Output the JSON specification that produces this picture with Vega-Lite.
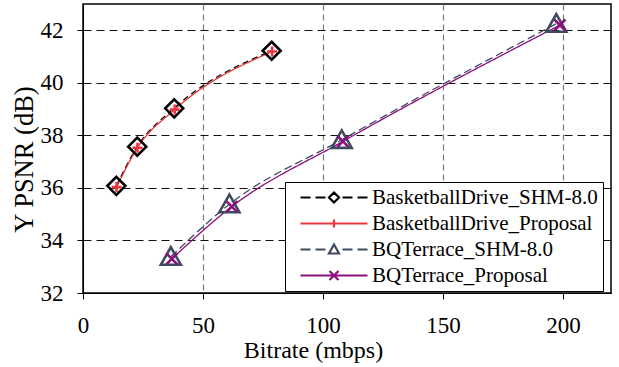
{
  "$schema": "https://vega.github.io/schema/vega-lite/v6.json",
  "width": 528,
  "height": 289,
  "autosize": {"type": "none"},
  "padding": {"left": 83, "top": 4, "right": 8, "bottom": 74},
  "background": "white",
  "config": {
    "view": {"stroke": "black", "strokeWidth": 1.5},
    "font": "Liberation Serif",
    "axis": {
      "labelFont": "Liberation Serif",
      "titleFont": "Liberation Serif",
      "labelColor": "black",
      "titleColor": "black",
      "titleFontWeight": "normal",
      "domainColor": "black",
      "tickColor": "black",
      "tickSize": 6,
      "labelFlush": false
    },
    "legend": {
      "orient": "none",
      "legendX": 202,
      "legendY": 178,
      "direction": "vertical",
      "strokeColor": "black",
      "fillColor": "white",
      "padding": 5,
      "labelFont": "Liberation Serif",
      "labelFontSize": 21,
      "labelColor": "black",
      "labelLimit": 400,
      "labelOffset": 61,
      "rowPadding": 4,
      "symbolSize": 100,
      "symbolStrokeWidth": 2.2,
      "symbolOpacity": 1
    }
  },
  "data": {
    "values": [
      {"series": "BasketballDrive_SHM-8.0", "bitrate": 13.9, "psnr": 36.08},
      {"series": "BasketballDrive_SHM-8.0", "bitrate": 22.6, "psnr": 37.57},
      {"series": "BasketballDrive_SHM-8.0", "bitrate": 38.0, "psnr": 39.03},
      {"series": "BasketballDrive_SHM-8.0", "bitrate": 78.6, "psnr": 41.22},
      {"series": "BasketballDrive_Proposal", "bitrate": 14.0, "psnr": 36.03},
      {"series": "BasketballDrive_Proposal", "bitrate": 22.7, "psnr": 37.53},
      {"series": "BasketballDrive_Proposal", "bitrate": 38.2, "psnr": 38.98},
      {"series": "BasketballDrive_Proposal", "bitrate": 78.8, "psnr": 41.19},
      {"series": "BQTerrace_SHM-8.0", "bitrate": 36.6, "psnr": 33.38},
      {"series": "BQTerrace_SHM-8.0", "bitrate": 61.0, "psnr": 35.38},
      {"series": "BQTerrace_SHM-8.0", "bitrate": 107.8, "psnr": 37.83},
      {"series": "BQTerrace_SHM-8.0", "bitrate": 197.2, "psnr": 42.25},
      {"series": "BQTerrace_Proposal", "bitrate": 37.0, "psnr": 33.3},
      {"series": "BQTerrace_Proposal", "bitrate": 62.0, "psnr": 35.29},
      {"series": "BQTerrace_Proposal", "bitrate": 108.3, "psnr": 37.77},
      {"series": "BQTerrace_Proposal", "bitrate": 198.7, "psnr": 42.2}
    ]
  },
  "layer": [
    {
      "mark": {"type": "line", "interpolate": "monotone", "strokeWidth": 1.3},
      "encoding": {
        "x": {
          "field": "bitrate", "type": "quantitative",
          "scale": {"domain": [0, 220], "nice": false, "zero": false},
          "axis": {
            "values": [0, 50, 100, 150, 200],
            "grid": true, "gridColor": "#7a7a7a", "gridDash": [6, 4], "gridWidth": 1.2,
            "labelFontSize": 23, "labelPadding": 15,
            "title": "Bitrate (mbps)", "titleFontSize": 24, "titlePadding": 1, "titleX": 230
          }
        },
        "y": {
          "field": "psnr", "type": "quantitative",
          "scale": {"domain": [32, 43], "nice": false, "zero": false},
          "axis": {
            "values": [32, 34, 36, 38, 40, 42],
            "grid": true, "gridColor": "#111111", "gridDash": [8, 5], "gridWidth": 1.2,
            "labelFontSize": 23, "labelPadding": 14,
            "title": "Y PSNR (dB)", "titleFontSize": 26.5, "titlePadding": 2, "titleY": 155
          }
        },
        "color": {
          "field": "series", "type": "nominal",
          "scale": {
            "domain": ["BasketballDrive_SHM-8.0", "BasketballDrive_Proposal", "BQTerrace_SHM-8.0", "BQTerrace_Proposal"],
            "range": ["#000000", "#e8383d", "#3d4b5f", "#8b0f7e"]
          },
          "legend": null
        },
        "strokeDash": {
          "field": "series", "type": "nominal",
          "scale": {
            "domain": ["BasketballDrive_SHM-8.0", "BasketballDrive_Proposal", "BQTerrace_SHM-8.0", "BQTerrace_Proposal"],
            "range": [[6, 4], [1, 0], [8, 4], [1, 0]]
          },
          "legend": null
        },
        "order": {"field": "bitrate", "type": "quantitative"}
      }
    },
    {
      "mark": {"type": "point", "filled": false, "strokeWidth": 2.6, "size": 400, "opacity": 1},
      "encoding": {
        "x": {"field": "bitrate", "type": "quantitative"},
        "y": {"field": "psnr", "type": "quantitative"},
        "color": {
          "field": "series", "type": "nominal",
          "scale": {
            "domain": ["BasketballDrive_SHM-8.0", "BasketballDrive_Proposal", "BQTerrace_SHM-8.0", "BQTerrace_Proposal"],
            "range": ["#000000", "#e8383d", "#3d4b5f", "#8b0f7e"]
          },
          "legend": null
        },
        "shape": {
          "field": "series", "type": "nominal",
          "scale": {
            "domain": ["BasketballDrive_SHM-8.0", "BasketballDrive_Proposal", "BQTerrace_SHM-8.0", "BQTerrace_Proposal"],
            "range": [
              "M0,-0.9L0.9,0L0,0.9L-0.9,0Z",
              "M-0.5,0H0.5M0,-0.5V0.5",
              "M0,-0.95L1,0.8H-1Z",
              "M-0.55,-0.55L0.55,0.55M-0.55,0.55L0.55,-0.55"
            ]
          },
          "legend": null
        }
      }
    },
    {
      "data": {
        "values": [
          {"series": "BasketballDrive_SHM-8.0"},
          {"series": "BasketballDrive_Proposal"},
          {"series": "BQTerrace_SHM-8.0"},
          {"series": "BQTerrace_Proposal"}
        ]
      },
      "mark": {"type": "point", "filled": false, "opacity": 0},
      "encoding": {
        "color": {
          "field": "series", "type": "nominal",
          "scale": {
            "domain": ["BasketballDrive_SHM-8.0", "BasketballDrive_Proposal", "BQTerrace_SHM-8.0", "BQTerrace_Proposal"],
            "range": ["#000000", "#e8383d", "#3d4b5f", "#8b0f7e"]
          },
          "legend": {"title": null}
        },
        "shape": {
          "field": "series", "type": "nominal",
          "scale": {
            "domain": ["BasketballDrive_SHM-8.0", "BasketballDrive_Proposal", "BQTerrace_SHM-8.0", "BQTerrace_Proposal"],
            "range": [
              "M0,0H2M3,0H5M8.4,0H10.4M11.4,0H13.4M6.7,-1L7.7,0L6.7,1L5.7,0Z",
              "M0,0H13.4M6.7,-0.8V0.8",
              "M0,0H2M3,0H5M8.4,0H10.4M11.4,0H13.4M6.7,-1L7.7,0.8H5.7Z",
              "M0,0H13.4M5.8,-0.9L7.6,0.9M5.8,0.9L7.6,-0.9"
            ]
          },
          "legend": {"title": null}
        }
      }
    }
  ],
  "resolve": {
    "scale": {"shape": "independent", "color": "independent"},
    "legend": {"shape": "independent", "color": "independent"}
  }
}
